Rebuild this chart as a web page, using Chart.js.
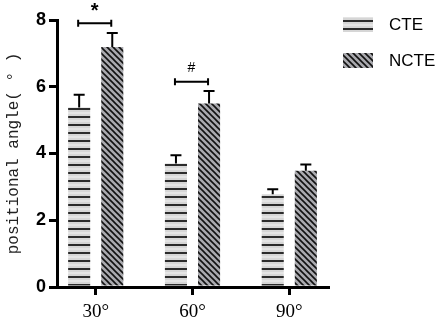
<!DOCTYPE html>
<html>
<head>
<meta charset="utf-8">
<script src="https://cdn.jsdelivr.net/npm/chart.js@4.4.0/dist/chart.umd.min.js"></script>
<style>
  html, body { margin: 0; padding: 0; background: #fff; }
  #wrap { width: 447px; height: 323px; position: relative; }
</style>
</head>
<body>
<div id="wrap"><canvas id="chart"></canvas></div>
<script>
// === ДАННЫЕ ===
const categories = ['30°', '60°', '90°'];
const seriesNames = ['CTE', 'NCTE'];
const cteValues = [5.38, 3.70, 2.78];
const ncteValues = [7.19, 5.50, 3.48];
const cteErr = [0.38, 0.25, 0.15];
const ncteErr = [0.42, 0.37, 0.19];
const yTicks = [0, 2, 4, 6, 8];
// скобки значимости: категория, уровень y, метка
const sigMarks = [
    { cat: 0, y: 7.9, label: '*' },
    { cat: 1, y: 6.15, label: '#' }
];

// === ШТРИХОВКИ ===
function makeHPattern() {
    const c = document.createElement('canvas');
    c.width = 8; c.height = 8;
    const g = c.getContext('2d');
    g.fillStyle = '#d6d6d6';
    g.fillRect(0, 0, 8, 8);
    g.fillStyle = '#e4e4e4';
    g.fillRect(0, 0, 8, 2);
    g.fillStyle = '#2b2b2b';
    g.fillRect(0, 4, 8, 2);
    return g.createPattern(c, 'repeat');
}
function makeDPattern() {
    const s = 6;
    const c = document.createElement('canvas');
    c.width = s; c.height = s;
    const g = c.getContext('2d');
    g.fillStyle = '#a9a9ae';
    g.fillRect(0, 0, s, s);
    g.strokeStyle = '#111';
    g.lineWidth = 1.6;
    g.beginPath();
    g.moveTo(-1, -1); g.lineTo(s + 1, s + 1);
    g.moveTo(-1 - s, -1); g.lineTo(1, s + 1);
    g.moveTo(s - 1, -1); g.lineTo(2 * s + 1, s + 1);
    g.stroke();
    return g.createPattern(c, 'repeat');
}
const hPat = makeHPattern();
const dPat = makeDPattern();

const toPoints = arr => arr.map((v, i) => ({ x: i, y: v }));

// === ПЛАГИН: усы, скобки, легенда ===
const extras = {
    id: 'extras',
    afterDatasetsDraw(chart) {
        const ctx = chart.ctx;
        const ys = chart.scales.y;
        const errs = [cteErr, ncteErr];
        ctx.save();
        ctx.strokeStyle = '#000';
        ctx.lineWidth = 2;
        chart.data.datasets.forEach((ds, di) => {
            chart.getDatasetMeta(di).data.forEach((bar, i) => {
                const top = ys.getPixelForValue(ds.data[i].y);
                const cap = ys.getPixelForValue(ds.data[i].y + errs[di][i]);
                ctx.beginPath();
                ctx.moveTo(bar.x, top);
                ctx.lineTo(bar.x, cap);
                ctx.moveTo(bar.x - 5.5, cap);
                ctx.lineTo(bar.x + 5.5, cap);
                ctx.stroke();
            });
        });
        // скобки значимости
        sigMarks.forEach(m => {
            const b0 = chart.getDatasetMeta(0).data[m.cat];
            const b1 = chart.getDatasetMeta(1).data[m.cat];
            const y = ys.getPixelForValue(m.y);
            ctx.beginPath();
            ctx.moveTo(b0.x - 1, y); ctx.lineTo(b1.x - 1, y);
            ctx.moveTo(b0.x - 1, y - 3.5); ctx.lineTo(b0.x - 1, y + 3.5);
            ctx.moveTo(b1.x - 1, y - 3.5); ctx.lineTo(b1.x - 1, y + 3.5);
            ctx.stroke();
            ctx.fillStyle = '#000';
            ctx.textAlign = 'center';
            ctx.textBaseline = 'bottom';
            ctx.font = m.label === '*' ? 'bold 20px Arial, "Liberation Sans"' : '14px Arial, "Liberation Sans"';
            ctx.fillText(m.label, (b0.x + b1.x) / 2 - 1, y + (m.label === '*' ? -2 : -7));
        });
        // легенда
        const pats = [hPat, dPat];
        seriesNames.forEach((name, i) => {
            const bx = 343, by = 17 + i * 36;
            ctx.fillStyle = pats[i];
            ctx.fillRect(bx, by, 30, 15);
            ctx.fillStyle = '#000';
            ctx.font = '17px Arial, "Liberation Sans"';
            ctx.textAlign = 'left';
            ctx.textBaseline = 'middle';
            ctx.fillText(name, 389, by + 8);
        });
        ctx.restore();
    }
};

new Chart(document.getElementById('chart'), {
    type: 'bar',
    data: {
        datasets: [
            { label: seriesNames[0], data: toPoints(cteValues), backgroundColor: hPat, borderWidth: 0 },
            { label: seriesNames[1], data: toPoints(ncteValues), backgroundColor: dPat, borderWidth: 0 }
        ]
    },
    options: {
        responsive: true,
        maintainAspectRatio: false,
        animation: false,
        layout: { padding: { top: 20, right: 119, left: 0, bottom: 0 } },
        datasets: { bar: { categoryPercentage: 0.684, barPercentage: 0.667 } },
        plugins: { legend: { display: false }, tooltip: { enabled: false } },
        scales: {
            x: {
                type: 'linear',
                offset: false,
                min: -0.4, max: 2.4,
                afterFit: s => { s.height = 36; },
                afterBuildTicks: s => { s.ticks = categories.map((c, i) => ({ value: i })); },
                border: { display: true, color: '#000', width: 3 },
                grid: { offset: false, drawOnChartArea: false, drawTicks: true, tickLength: 8, lineWidth: 3, color: '#000' },
                ticks: {
                    callback: v => categories[v],
                    color: '#000',
                    padding: 6,
                    font: { family: '"Liberation Serif", "Times New Roman", serif', size: 19 }
                }
            },
            y: {
                min: 0, max: 8,
                afterFit: s => { s.width = 57; },
                afterBuildTicks: s => { s.ticks = yTicks.map(v => ({ value: v })); },
                border: { display: true, color: '#000', width: 3 },
                grid: { drawOnChartArea: false, drawTicks: true, tickLength: 8, lineWidth: 3, color: '#000' },
                ticks: {
                    color: '#000',
                    padding: 3,
                    font: { family: '"Liberation Sans", Arial', size: 18, weight: 'bold' }
                },
                title: {
                    display: true,
                    text: 'positional angle( ° )',
                    color: '#222',
                    padding: { top: 4, bottom: 2 },
                    font: { family: '"Liberation Mono", monospace', size: 16 }
                }
            }
        }
    },
    plugins: [extras]
});
</script>
</body>
</html>
